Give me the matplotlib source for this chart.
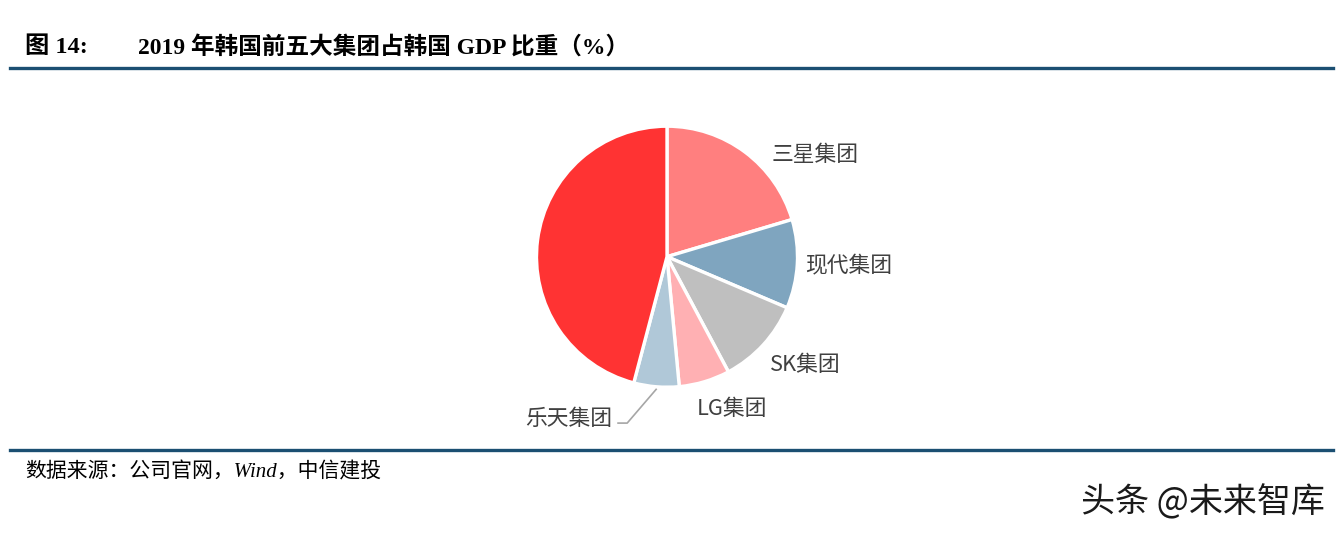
import numpy as np
import matplotlib
matplotlib.use("Agg")
import matplotlib.pyplot as plt

# Data (share of Korea GDP, %)
labels = ["三星集团", "现代集团", "SK集团", "LG集团", "乐天集团", ""]
values = [20.4, 11.0, 10.8, 6.3, 5.6, 45.9]
colors = ["#FF7F7F", "#7FA5BF", "#BFBFBF", "#FFB0B3", "#B0C8D8", "#FF3333"]

title_no = "图 14:"
title = "2019 年韩国前五大集团占韩国 GDP 比重（%）"
source = "数据来源：公司官网，Wind，中信建投"
watermark = "头条 @未来智库"

W, H = 1343, 538
fig = plt.figure(figsize=(W / 100, H / 100), dpi=100)
fig.patch.set_facecolor("white")

cjk = ["Noto Sans CJK SC", "DejaVu Sans"]
serif = ["Liberation Serif", "Noto Sans CJK SC"]

# Title
fig.text(25 / W, 1 - 47 / H, title_no, family=serif, fontweight="bold",
         fontsize=17.5, va="center", ha="left", color="#000000")
fig.text(138 / W, 1 - 47 / H, title, family=serif, fontweight="bold",
         fontsize=17, va="center", ha="left", color="#000000")

# Rules
line_col = "#1B4F72"
fig.add_artist(plt.Line2D([10 / W, 1333 / W], [1 - 68.5 / H, 1 - 68.5 / H],
                          color=line_col, lw=2.4, transform=fig.transFigure))
fig.add_artist(plt.Line2D([10 / W, 1333 / W], [1 - 450 / H, 1 - 450 / H],
                          color=line_col, lw=2.4, transform=fig.transFigure))

# Source
fig.text(25 / W, 1 - 472 / H, source, family=serif, fontstyle="italic",
         fontsize=15, va="center", ha="left", color="#000000")

# Watermark
fig.text(1325 / W, 1 - 503 / H, watermark, family=cjk, fontsize=24.5,
         va="center", ha="right", color="#1A1A1A")

# Pie axes
cx, cy, r = 667.0, 256.7, 130.5
ax = fig.add_axes([(cx - r) / W, 1 - (cy + r) / H, 2 * r / W, 2 * r / H])

wedges, _ = ax.pie(values, colors=colors, startangle=90, counterclock=False,
                   radius=1.0, wedgeprops=dict(edgecolor="white", linewidth=2.4))
ax.set_xlim(-1, 1)
ax.set_ylim(-1, 1)
ax.set_aspect("equal")
ax.axis("off")
for w in wedges:
    w.set_clip_on(False)

lab_kw = dict(family=cjk, fontsize=15.7, color="#404040", va="center",
              clip_on=False)
ax.text(0.805, 0.779, labels[0], ha="left", **lab_kw)
ax.text(1.057, -0.071, labels[1], ha="left", **lab_kw)
ax.text(0.789, -0.830, labels[2], ha="left", **lab_kw)
ax.text(0.230, -1.167, labels[3], ha="left", **lab_kw)
ax.text(-0.421, -1.244, labels[4], ha="right", **lab_kw)

# Leader line for 乐天集团
w4 = wedges[4]
mid = np.deg2rad((w4.theta1 + w4.theta2) / 2)
px, py = 1.02 * np.cos(mid), 1.02 * np.sin(mid)
ax.plot([-0.375, -0.305, px], [-1.275, -1.275, py], color="#A6A6A6",
        lw=1.2, clip_on=False)

fig.savefig("out.png", dpi=100, facecolor="white")
